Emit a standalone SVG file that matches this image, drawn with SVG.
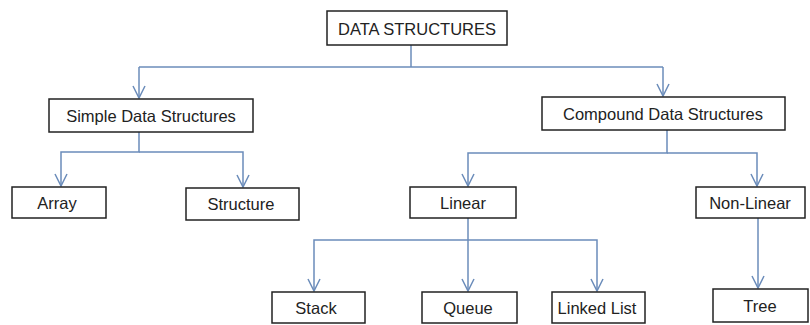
<svg xmlns="http://www.w3.org/2000/svg" width="810" height="325" viewBox="0 0 810 325">
<style>
.box{fill:#fff;stroke:#222;stroke-width:1.5}
.lbl{font-family:"Liberation Sans",Arial,sans-serif;font-size:16.5px;fill:#222;text-anchor:middle;dominant-baseline:central}
.con{fill:none;stroke:#6b8cba;stroke-width:1.5}
</style>
<defs>
<marker id="arr" viewBox="0 0 14 14" refX="13" refY="7" markerWidth="14" markerHeight="14" markerUnits="userSpaceOnUse" orient="auto">
<path d="M1 1 L13 7 L1 13" fill="none" stroke="#6b8cba" stroke-width="1.5"/>
</marker>
</defs>
<rect width="810" height="325" fill="#fff"/>
<g id="connectors">
<path class="con" d="M411 45 V67"/>
<path class="con" d="M139 67 H663"/>
<path class="con" d="M139 67 V98" marker-end="url(#arr)"/>
<path class="con" d="M663 67 V96" marker-end="url(#arr)"/>
<path class="con" d="M139 132 V152 H61 V186" marker-end="url(#arr)"/>
<path class="con" d="M139 152 H243 V187" marker-end="url(#arr)"/>
<path class="con" d="M667 130 V153 H468 V186" marker-end="url(#arr)"/>
<path class="con" d="M667 153 H757 V186" marker-end="url(#arr)"/>
<path class="con" d="M468 218 V291" marker-end="url(#arr)"/>
<path class="con" d="M468 240 H314 V291" marker-end="url(#arr)"/>
<path class="con" d="M468 240 H597 V291" marker-end="url(#arr)"/>
<path class="con" d="M758 218 V288" marker-end="url(#arr)"/>
</g>
<g id="n-data-structures"><rect class="box" x="327" y="11" width="180" height="34"/><text class="lbl" x="417" y="29">DATA STRUCTURES</text></g>
<g id="n-simple"><rect class="box" x="49" y="99" width="204" height="33"/><text class="lbl" x="151" y="116">Simple Data Structures</text></g>
<g id="n-compound"><rect class="box" x="542" y="97" width="243" height="33"/><text class="lbl" x="663" y="114">Compound Data Structures</text></g>
<g id="n-array"><rect class="box" x="12" y="187" width="94" height="31"/><text class="lbl" x="57" y="203">Array</text></g>
<g id="n-structure"><rect class="box" x="186" y="188" width="113" height="32"/><text class="lbl" x="241" y="204">Structure</text></g>
<g id="n-linear"><rect class="box" x="410" y="187" width="106" height="31"/><text class="lbl" x="463" y="203">Linear</text></g>
<g id="n-nonlinear"><rect class="box" x="696" y="187" width="109" height="31"/><text class="lbl" x="750" y="203">Non-Linear</text></g>
<g id="n-stack"><rect class="box" x="272" y="292" width="93" height="31"/><text class="lbl" x="316" y="308">Stack</text></g>
<g id="n-queue"><rect class="box" x="422" y="292" width="95" height="31"/><text class="lbl" x="468" y="308">Queue</text></g>
<g id="n-linkedlist"><rect class="box" x="552" y="292" width="93" height="31"/><text class="lbl" x="597" y="308">Linked List</text></g>
<g id="n-tree"><rect class="box" x="713" y="289" width="95" height="33"/><text class="lbl" x="760" y="306">Tree</text></g>
</svg>
